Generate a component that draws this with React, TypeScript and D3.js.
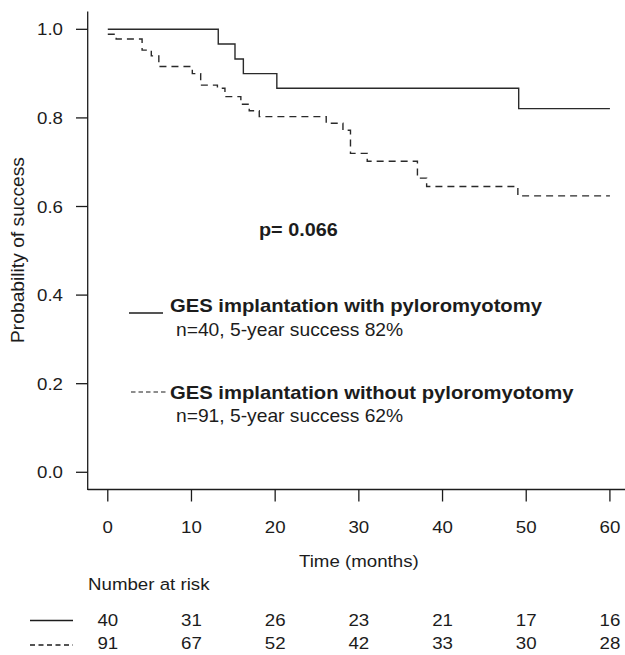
import React from "react";
import * as d3 from "d3";

// Kaplan-Meier steps
const withPyloTimes = [0, 13.2, 15.2, 16.2, 20.2, 49.1, 60];
const withPyloSurv = [1.0, 0.967, 0.933, 0.9, 0.867, 0.821, 0.821];

const withoutPyloTimes = [0, 1.0, 4.1, 5.2, 6.1, 10.1, 11.1, 13.1, 14.0, 15.9, 16.9, 18.1, 26.1, 28.1, 29.0, 31.0, 37.0, 38.1, 49.0, 60];
const withoutPyloSurv = [0.989, 0.978, 0.953, 0.94, 0.916, 0.9, 0.874, 0.867, 0.848, 0.831, 0.816, 0.803, 0.788, 0.772, 0.72, 0.702, 0.664, 0.645, 0.624, 0.624];

const xTicks = [0, 10, 20, 30, 40, 50, 60];
const yTicks = [0, 0.2, 0.4, 0.6, 0.8, 1.0];
const riskWith = [40, 31, 26, 23, 21, 17, 16];
const riskWithout = [91, 67, 52, 42, 33, 30, 28];

const FONT = "'Liberation Sans', Arial, Helvetica, sans-serif";
const INK = "#1c1c1c";
const SX = 1.1; // glyphs in the source are a bit wider than Arial

function T({ x, y, children, anchor = "start", size = 17, weight = "normal", rotate = 0 }) {
  const tr = rotate
    ? `translate(${x},${y}) rotate(${rotate}) scale(${SX},1)`
    : `translate(${x},${y}) scale(${SX},1)`;
  return (
    <text
      transform={tr}
      textAnchor={anchor}
      fontFamily={FONT}
      fontSize={size}
      fontWeight={weight}
      fill={INK}
    >
      {children}
    </text>
  );
}

export default function App() {
  const x = d3.scaleLinear().domain([-2.4, 62.4]).range([87.7, 630]);
  const y = d3.scaleLinear().domain([-0.04, 1.04]).range([490, 11.6]);

  const line = d3
    .line<[number, number]>()
    .x((d) => x(d[0]))
    .y((d) => y(d[1]))
    .curve(d3.curveStepAfter);

  const solid = line(withPyloTimes.map((t, i) => [t, withPyloSurv[i]]));
  const dashed = line(withoutPyloTimes.map((t, i) => [t, withoutPyloSurv[i]]));

  return (
    <svg
      width={625}
      height={655}
      style={{ position: "absolute", left: 0, top: 0, background: "#fff" }}
    >
      {/* axes */}
      <line x1={87.7} x2={87.7} y1={y(1.04)} y2={490} stroke={INK} strokeWidth={1.3} />
      <line x1={87.7} x2={630} y1={489.5} y2={489.5} stroke={INK} strokeWidth={1.3} />
      {yTicks.map((v) => (
        <g key={v}>
          <line x1={76} x2={87.7} y1={y(v)} y2={y(v)} stroke={INK} strokeWidth={1.3} />
          <T x={63} y={y(v) + 6} anchor="end">
            {v.toFixed(1)}
          </T>
        </g>
      ))}
      {xTicks.map((v) => (
        <g key={v}>
          <line x1={x(v)} x2={x(v)} y1={489.5} y2={501.5} stroke={INK} strokeWidth={1.3} />
          <T x={x(v)} y={533} anchor="middle">
            {v}
          </T>
        </g>
      ))}
      <T x={24} y={250} anchor="middle" rotate={-90} size={17.5}>
        Probability of success
      </T>
      <T x={x(30)} y={567} anchor="middle">
        Time (months)
      </T>

      {/* curves */}
      <path d={solid} fill="none" stroke="#2a2a2a" strokeWidth={1.4} />
      <path d={dashed} fill="none" stroke="#2a2a2a" strokeWidth={1.4} strokeDasharray="7,5" />

      {/* annotations */}
      <T x={259} y={236} weight="bold" size={18}>
        p= 0.066
      </T>
      <line x1={129} x2={163} y1={313} y2={313} stroke={INK} strokeWidth={1.4} />
      <T x={170} y={312} weight="bold" size={18.4}>
        GES implantation with pyloromyotomy
      </T>
      <T x={176} y={336} size={17.5}>
        n=40, 5-year success 82%
      </T>
      <line x1={131} x2={168} y1={392} y2={392} stroke={INK} strokeWidth={1.2} strokeDasharray="4.5,3" />
      <T x={170} y={399} weight="bold" size={18.4}>
        GES implantation without pyloromyotomy
      </T>
      <T x={176} y={422} size={17.5}>
        n=91, 5-year success 62%
      </T>

      {/* number at risk */}
      <T x={88} y={590}>
        Number at risk
      </T>
      <line x1={30} x2={73} y1={620.5} y2={620.5} stroke={INK} strokeWidth={1.3} />
      <line x1={30} x2={73} y1={645} y2={645} stroke={INK} strokeWidth={1.3} strokeDasharray="5,3.5" />
      {xTicks.map((v, i) => (
        <g key={"r" + v}>
          <T x={x(v)} y={626} anchor="middle">
            {riskWith[i]}
          </T>
          <T x={x(v)} y={649} anchor="middle">
            {riskWithout[i]}
          </T>
        </g>
      ))}
    </svg>
  );
}
